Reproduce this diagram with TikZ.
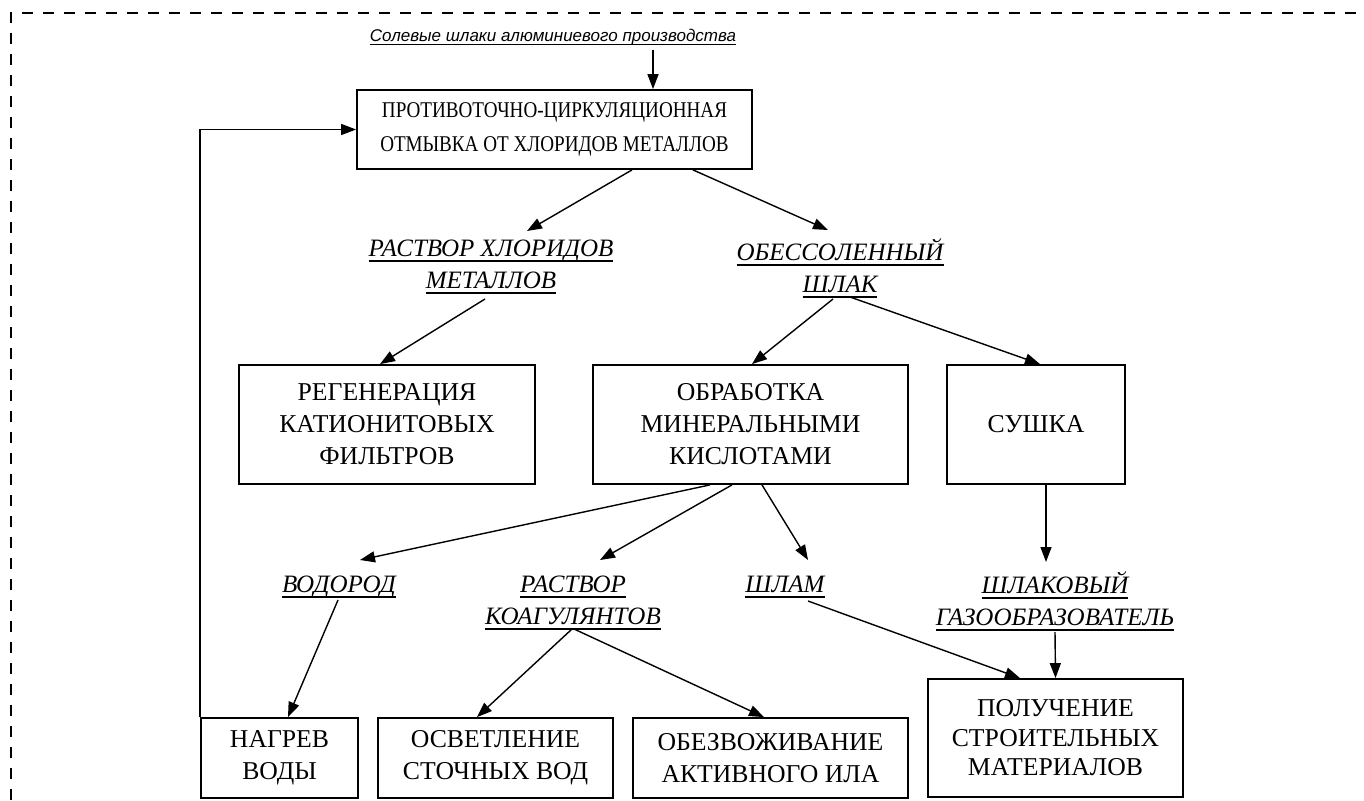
\documentclass[tikz,border=0pt]{standalone}
\usepackage{fontspec}
\setmainfont{Liberation Serif}
\newfontfamily\titlefont{Liberation Sans}
\newfontfamily\condfont[FakeStretch=0.85]{Liberation Serif}
\usetikzlibrary{arrows.meta,calc}
\newcommand{\ulin}[1]{\setbox0\hbox{#1}\rlap{\rule[-0.22em]{\wd0}{0.07em}}\box0}
\tikzset{
  box/.style={draw, line width=1.8pt, align=center, inner sep=0pt,
    font=\fontsize{25.7}{32}\selectfont},
  lbl/.style={align=center, inner sep=0pt, font=\itshape\fontsize{25}{32}\selectfont},
  ttl/.style={inner sep=0pt, font=\titlefont\itshape\fontsize{17}{22}\selectfont},
  arr/.style={line width=1.4pt, -{Triangle[length=15pt,width=11pt]}},
  border/.style={line width=2.5pt, dash pattern=on 11pt off 10pt}
}
\begin{document}
\begin{tikzpicture}[x=1pt,y=-1pt]
\useasboundingbox (0,0) rectangle (1364,800);
\draw[border] (11,800) -- (11,13) -- (1364,13);

\node[ttl] (src) at (553,37) {\ulin{Солевые шлаки алюминиевого производства}};
\node[box, minimum width=395pt, minimum height=79pt, font=\condfont\fontsize{22.5}{34}\selectfont] (b1) at (554.5,129.5)
  {ПРОТИВОТОЧНО-ЦИРКУЛЯЦИОННАЯ\\ОТМЫВКА ОТ ХЛОРИДОВ МЕТАЛЛОВ};

\node[lbl] (rhm) at (491,267) {\ulin{РАСТВОР ХЛОРИДОВ}\\\ulin{МЕТАЛЛОВ}};
\node[lbl] (obsh) at (840,268) {\ulin{ОБЕССОЛЕННЫЙ}\\\ulin{ШЛАК}};

\node[box, minimum width=296pt, minimum height=119pt] (regen) at (387,424.5)
  {РЕГЕНЕРАЦИЯ\\КАТИОНИТОВЫХ\\ФИЛЬТРОВ};
\node[box, minimum width=315pt, minimum height=119pt] (obr) at (750.5,424.5)
  {ОБРАБОТКА\\МИНЕРАЛЬНЫМИ\\КИСЛОТАМИ};
\node[box, minimum width=178pt, minimum height=119pt] (sush) at (1036,424.5) {СУШКА};

\node[lbl] (vod) at (339,587) {\ulin{ВОДОРОД}};
\node[lbl] (rk) at (573,603) {\ulin{РАСТВОР}\\\ulin{КОАГУЛЯНТОВ}};
\node[lbl] (shg) at (1055,601) {\ulin{ШЛАКОВЫЙ}\\\ulin{ГАЗООБРАЗОВАТЕЛЬ}};
\node[lbl] (shlam) at (785,587) {\ulin{ШЛАМ}};

\node[box, minimum width=157pt, minimum height=80pt] (nagrev) at (279.5,758) {НАГРЕВ\\ВОДЫ};
\node[box, minimum width=235pt, minimum height=80pt] (osvet) at (495.5,758) {ОСВЕТЛЕНИЕ\\СТОЧНЫХ ВОД};
\node[box, minimum width=275pt, minimum height=80pt] (obezv) at (770.5,758) {ОБЕЗВОЖИВАНИЕ\\АКТИВНОГО ИЛА};
\node[box, minimum width=255pt, minimum height=118pt, font=\fontsize{25.7}{29.5}\selectfont] (poluch) at (1055.5,738)
  {ПОЛУЧЕНИЕ\\СТРОИТЕЛЬНЫХ\\МАТЕРИАЛОВ};

\draw[arr] ($(src.center)+(100,13)$) -- ([xshift=98.5pt]b1.north);
\draw[arr] (nagrev.north west) |- (b1.west);
\draw[arr] ([xshift=77.5pt]b1.south) -- ($(rhm.center)+(36,-36)$);
\draw[arr] ([xshift=138.5pt]b1.south) -- ($(obsh.center)+(-12,-38)$);
\draw[arr] ($(rhm.center)+(-6,32)$) -- ([xshift=-7pt]regen.north);
\draw[arr] ($(obsh.center)+(-7,31)$) -- ([xshift=1.5pt]obr.north);
\draw[arr] ($(obsh.center)+(10,29)$) -- ([xshift=4pt]sush.north);
\draw[arr] ([xshift=10pt]sush.south) -- ($(shg.center)+(-9,-39)$);
\draw[arr] ($(shg.center)+(0,31)$) -- (poluch.north);
\draw[arr] ([xshift=-40.5pt]obr.south) -- ($(vod.center)+(21,-27)$);
\draw[arr] ([xshift=-18.5pt]obr.south) -- ($(rk.center)+(27,-43)$);
\draw[arr] ([xshift=11.5pt]obr.south) -- ($(shlam.center)+(23,-27)$);
\draw[arr] ($(shlam.center)+(23,14)$) -- ([xshift=-35.5pt]poluch.north);
\draw[arr] ($(vod.center)+(-1,13)$) -- ([xshift=8.5pt]nagrev.north);
\draw[arr] ($(rk.center)+(-1,26)$) -- ([xshift=-18.5pt]osvet.north);
\draw[arr] ($(rk.center)+(1,26)$) -- ([xshift=-6.5pt]obezv.north);
\end{tikzpicture}
\end{document}
